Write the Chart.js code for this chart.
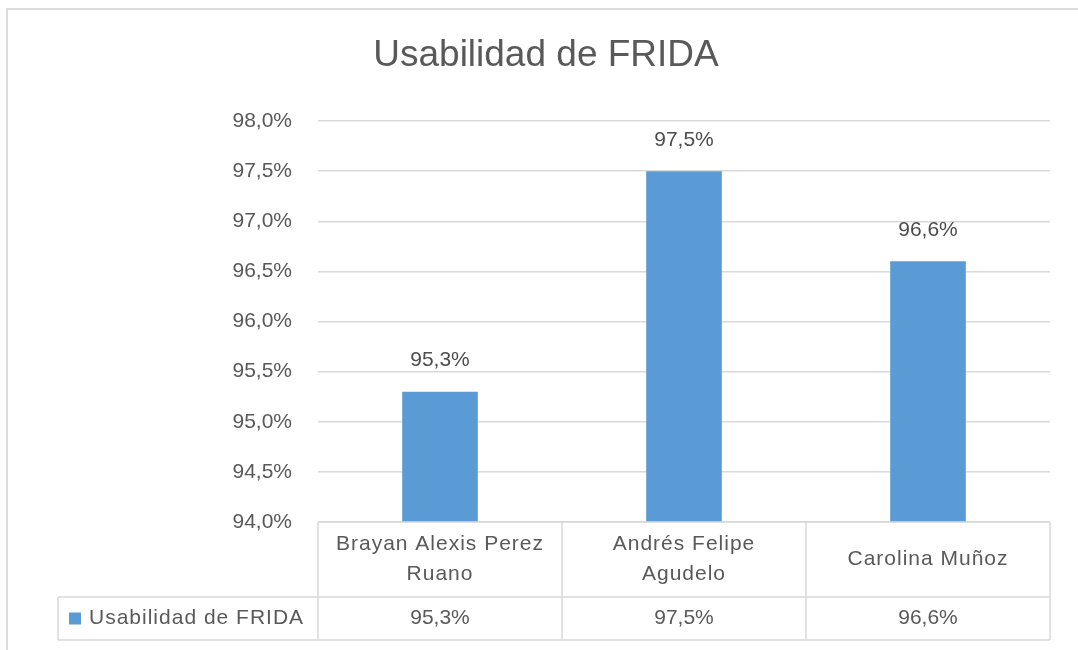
<!DOCTYPE html>
<html>
<head>
<meta charset="utf-8">
<script src="https://cdn.jsdelivr.net/npm/chart.js@4/dist/chart.umd.min.js"></script>
<style>
  html, body { margin: 0; padding: 0; background: #ffffff; }
  #wrap { width: 1078px; height: 650px; }
</style>
</head>
<body>
<div id="wrap"><canvas id="c" width="1078" height="650"></canvas></div>
<script>
// Chart content
const chartTitle = 'Usabilidad de FRIDA';
const seriesName = 'Usabilidad de FRIDA';
const categories = [
  ['Brayan Alexis Perez', 'Ruano'],
  ['Andrés Felipe', 'Agudelo'],
  ['Carolina Muñoz']
];
const values = [95.3, 97.5, 96.6];
const axisMin = 94.0;
const axisMax = 98.0;
const axisStep = 0.5;

const FONT = '"Liberation Sans", Arial, sans-serif';
const TEXT = '#595959';
const GRID = '#d9d9d9';
const BAR = '#5b9bd5';

const fmtPct = v => v.toFixed(1).replace('.', ',') + '%';

// Outer frame, title, value labels and the data table under the plot
const decorations = {
  id: 'decorations',
  beforeDraw(chart) {
    const ctx = chart.ctx;
    ctx.save();
    ctx.fillStyle = '#ffffff';
    ctx.fillRect(0, 0, chart.width, chart.height);
    ctx.strokeStyle = '#dcdcdc';
    ctx.lineWidth = 2;
    ctx.beginPath();
    ctx.moveTo(7, chart.height);
    ctx.lineTo(7, 9);
    ctx.lineTo(chart.width, 9);
    ctx.stroke();
    ctx.restore();
  },
  afterDraw(chart) {
    const ctx = chart.ctx;
    const area = chart.chartArea;
    const n = categories.length;
    const cellW = (area.right - area.left) / n;

    ctx.save();
    // title
    ctx.fillStyle = TEXT;
    ctx.font = '37px ' + FONT;
    ctx.textAlign = 'center';
    ctx.textBaseline = 'alphabetic';
    ctx.fillText(chartTitle, 546, 66);

    // value labels above the bars
    ctx.font = '21px ' + FONT;
    ctx.fillStyle = '#4d4d4d';
    ctx.textBaseline = 'middle';
    const meta = chart.getDatasetMeta(0);
    meta.data.forEach((bar, i) => {
      ctx.fillText(fmtPct(values[i]), bar.x, bar.y - 31);
    });

    // data table
    const headTop = area.bottom;
    const rowTop = 597;
    const rowBottom = 640;
    const tableLeft = 58;
    ctx.strokeStyle = GRID;
    ctx.lineWidth = 1.5;
    ctx.beginPath();
    ctx.moveTo(area.left, headTop); ctx.lineTo(area.right, headTop);
    ctx.moveTo(tableLeft, rowTop); ctx.lineTo(area.right, rowTop);
    ctx.moveTo(tableLeft, rowBottom); ctx.lineTo(area.right, rowBottom);
    ctx.moveTo(tableLeft, rowTop); ctx.lineTo(tableLeft, rowBottom);
    for (let i = 0; i <= n; i++) {
      const xe = area.left + i * cellW;
      ctx.moveTo(xe, headTop); ctx.lineTo(xe, rowBottom);
    }
    ctx.stroke();

    // category headers
    ctx.fillStyle = TEXT;
    ctx.font = '21px ' + FONT;
    ctx.textAlign = 'center';
    ctx.textBaseline = 'middle';
    ctx.letterSpacing = '1px';
    const headMid = (headTop + rowTop) / 2;
    const lineH = 30;
    categories.forEach((lines, i) => {
      const cx = chart.scales.x.getPixelForValue(i);
      const y0 = headMid - (lines.length - 1) * lineH / 2;
      lines.forEach((t, k) => ctx.fillText(t, cx, y0 + k * lineH));
    });

    // series row: legend key, name and values
    const rowMid = (rowTop + rowBottom) / 2;
    ctx.fillStyle = BAR;
    ctx.fillRect(69, rowMid - 6, 12, 12);
    ctx.fillStyle = TEXT;
    ctx.textAlign = 'left';
    ctx.fillText(seriesName, 89, rowMid);
    ctx.letterSpacing = '0px';
    ctx.textAlign = 'center';
    ctx.font = '21px ' + FONT;
    values.forEach((v, i) => {
      ctx.fillText(fmtPct(v), chart.scales.x.getPixelForValue(i), rowMid);
    });
    ctx.restore();
  }
};

new Chart(document.getElementById('c'), {
  type: 'bar',
  data: {
    labels: categories,
    datasets: [{
      label: seriesName,
      data: values,
      backgroundColor: BAR,
      borderWidth: 0,
      barPercentage: 0.31,
      categoryPercentage: 1.0
    }]
  },
  options: {
    responsive: false,
    animation: false,
    layout: { padding: { top: 121, right: 28, bottom: 128, left: 0 } },
    plugins: {
      legend: { display: false },
      title: { display: false },
      tooltip: { enabled: false }
    },
    scales: {
      x: { display: false },
      y: {
        min: axisMin,
        max: axisMax,
        afterFit(scale) { scale.width = 318; },
        border: { display: false },
        grid: { color: GRID, lineWidth: 1.5, drawTicks: false },
        ticks: {
          stepSize: axisStep,
          padding: 26,
          color: TEXT,
          font: { family: FONT, size: 21 },
          callback: v => fmtPct(v)
        }
      }
    }
  },
  plugins: [decorations]
});
</script>
</body>
</html>
